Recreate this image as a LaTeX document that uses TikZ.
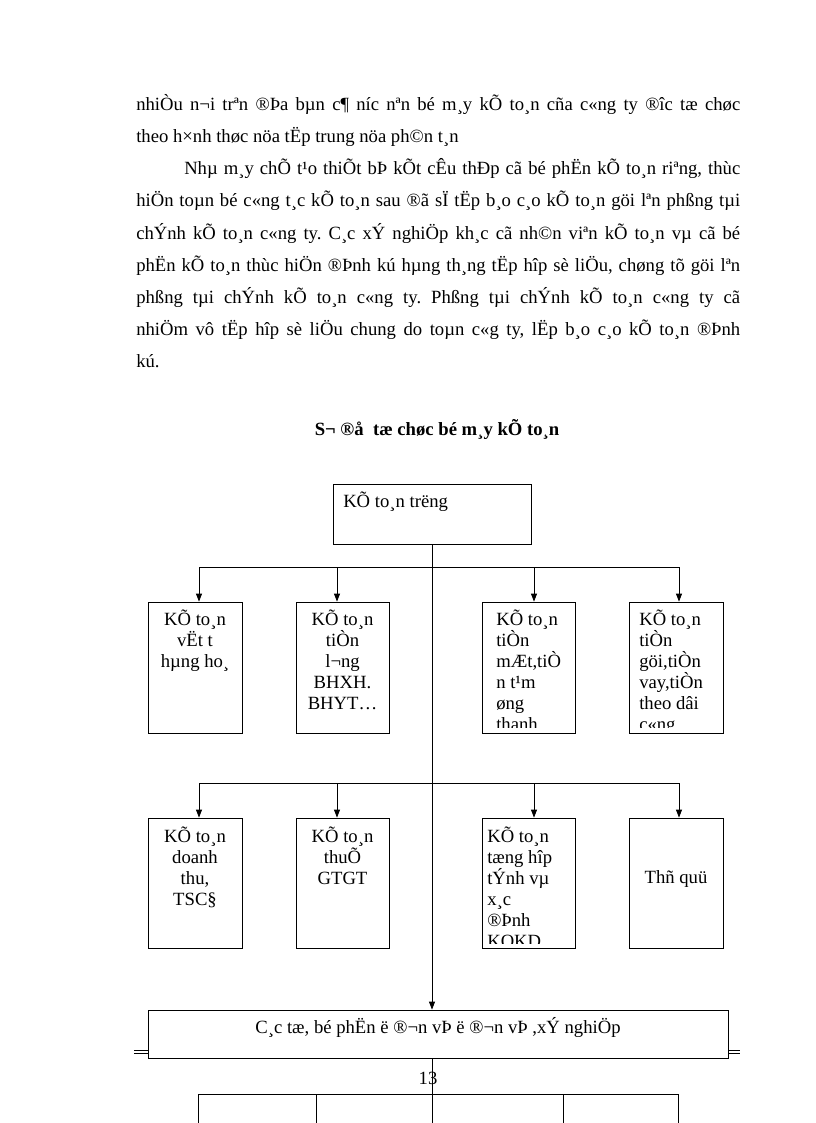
\documentclass[tikz,border=0pt]{standalone}
\usepackage{fontspec}
\setmainfont{Liberation Serif}
\usetikzlibrary{arrows.meta}
\newlength\px
\setlength\px{0.75pt}
\frenchspacing
\begin{document}
\begin{tikzpicture}[x=0.75pt,y=-0.75pt,
  box/.style={draw, line width=0.6pt, rectangle, inner sep=0pt, fill=white},
  ln/.style={line width=0.6pt},
  arr/.style={line width=0.6pt, -{Triangle[length=6pt,width=4.5pt]}},
  txt/.style={inner sep=0pt, font=\fontsize{14pt}{16pt}\selectfont\frenchspacing},
  ttl/.style={inner sep=0pt, font=\fontsize{14pt}{16pt}\selectfont\bfseries},
]
\useasboundingbox (0,0) rectangle (816,1123);
\fill[white] (0,0) rectangle (816,1123);

% paragraph text
\node[txt, anchor=base west] (l1) at (136,111) {\makebox[453pt][s]{nhiÒu n¬i trªn ®Þa bµn c¶ níc nªn bé m¸y kÕ to¸n cña c«ng ty ®îc tæ chøc}};
\node[txt, anchor=base west] (l2) at (136,143) {theo h×nh thøc nöa tËp trung nöa ph©n t¸n};
\node[txt, anchor=base west] (l3) at (184,175) {\makebox[417pt][s]{Nhµ m¸y chÕ t¹o thiÕt bÞ kÕt cÊu thÐp cã bé phËn kÕ to¸n riªng, thùc}};
\node[txt, anchor=base west] (l4) at (136,207) {\makebox[453pt][s]{hiÖn toµn bé c«ng t¸c kÕ to¸n sau ®ã sÏ tËp b¸o c¸o kÕ to¸n göi lªn phßng tµi}};
\node[txt, anchor=base west] (l5) at (136,239) {\makebox[453pt][s]{chÝnh kÕ to¸n c«ng ty. C¸c xÝ nghiÖp kh¸c cã nh©n viªn kÕ to¸n vµ cã bé}};
\node[txt, anchor=base west] (l6) at (136,271) {\makebox[453pt][s]{phËn kÕ to¸n thùc hiÖn ®Þnh kú hµng th¸ng tËp hîp sè liÖu, chøng tõ göi lªn}};
\node[txt, anchor=base west] (l7) at (136,303) {\makebox[453pt][s]{phßng tµi chÝnh kÕ to¸n c«ng ty. Phßng tµi chÝnh kÕ to¸n c«ng ty cã}};
\node[txt, anchor=base west] (l8) at (136,335) {\makebox[453pt][s]{nhiÖm vô tËp hîp sè liÖu chung do toµn c«g ty, lËp b¸o c¸o kÕ to¸n ®Þnh}};
\node[txt, anchor=base west] (l9) at (136,367) {kú.};

% title
\node[ttl, anchor=base] (title) at (437,435) {S¬ ®å\ \ tæ chøc bé m¸y kÕ to¸n};

% footer double rule (hidden behind the bottom box)
\coordinate (fl1) at (134,1050.5);
\coordinate (fr1) at (740,1050.5);
\coordinate (fl2) at (134,1053);
\coordinate (fr2) at (740,1053);
\draw[line width=0.5pt] (fl1) -- (fr1);
\draw[line width=0.5pt] (fl2) -- (fr2);

% boxes
\node[box, minimum width=198\px, minimum height=60\px] (top) at (432,514) {};
\node[box, minimum width=94\px, minimum height=131\px] (b1) at (195,667.5) {};
\node[box, minimum width=93\px, minimum height=131\px] (b2) at (342.5,667.5) {};
\node[box, minimum width=93\px, minimum height=131\px] (b3) at (528.5,667.5) {};
\node[box, minimum width=94\px, minimum height=131\px] (b4) at (676,667.5) {};
\node[box, minimum width=94\px, minimum height=130\px] (b5) at (195,883) {};
\node[box, minimum width=93\px, minimum height=130\px] (b6) at (342.5,883) {};
\node[box, minimum width=93\px, minimum height=130\px] (b7) at (529,883) {};
\node[box, minimum width=94\px, minimum height=130\px] (b8) at (676,883) {};
\node[box, minimum width=580\px, minimum height=48\px] (bot) at (438,1034) {};

% box texts
\node[txt, anchor=base west] (toptxt) at (343,507) {KÕ to¸n trëng};
\foreach \t [count=\i] in {KÕ to¸n, vËt t, hµng ho¸}
  \node[txt, anchor=base] (b1t\i) at (195,{625+21*(\i-1)}) {\t};
\foreach \t [count=\i] in {KÕ to¸n, tiÒn, l¬ng, BHXH., BHYT…}
  \node[txt, anchor=base] (b2t\i) at (342.5,{625+21*(\i-1)}) {\t};
\begin{scope}
  \clip (b3.north west) rectangle ([yshift=6\px]b3.south east);
  \foreach \t [count=\i] in {KÕ to¸n, tiÒn, {mÆt,tiÒ}, n t¹m, øng, thanh}
    \node[txt, anchor=base west] (b3t\i) at (496,{625+21*(\i-1)}) {\t};
\end{scope}
\begin{scope}
  \clip (b4.north west) rectangle ([yshift=6\px]b4.south east);
  \foreach \t [count=\i] in {KÕ to¸n, tiÒn, {göi,tiÒn}, {vay,tiÒn}, theo dâi, c«ng}
    \node[txt, anchor=base west] (b4t\i) at (639,{625+21*(\i-1)}) {\t};
\end{scope}
\foreach \t [count=\i] in {KÕ to¸n, doanh, {thu,}, TSC§}
  \node[txt, anchor=base] (b5t\i) at (195,{842+21*(\i-1)}) {\t};
\foreach \t [count=\i] in {KÕ to¸n, thuÕ, GTGT}
  \node[txt, anchor=base] (b6t\i) at (342.5,{842+21*(\i-1)}) {\t};
\begin{scope}
  \clip (b7.north west) rectangle ([yshift=5\px]b7.south east);
  \foreach \t [count=\i] in {KÕ to¸n, tæng hîp, tÝnh vµ, x¸c, ®Þnh, KQKD}
    \node[txt, anchor=base west] (b7t\i) at (487,{842+21*(\i-1)}) {\t};
\end{scope}
\node[txt, anchor=base] (b8t) at (676,883) {Thñ quü};
\node[txt, anchor=base] (bottxt) at (438,1033) {C¸c tæ, bé phËn ë ®¬n vÞ ë ®¬n vÞ ,xÝ nghiÖp};

% connectors
\coordinate (r1a) at (199,567);
\coordinate (r1b) at (337,567);
\coordinate (r1c) at (534,567);
\coordinate (r1d) at (679,567);
\coordinate (r2a) at (199,783);
\coordinate (r2b) at (337,783);
\coordinate (r2c) at (534,783);
\coordinate (r2d) at (679,783);
\draw[arr] (top.south) -- (top.south |- bot.north);
\draw[ln] (r1a) -- (r1d);
\draw[ln] (r2a) -- (r2d);
\draw[arr] (r1a) -- (r1a |- b1.north);
\draw[arr] (r1b) -- (r1b |- b2.north);
\draw[arr] (r1c) -- (r1c |- b3.north);
\draw[arr] (r1d) -- (r1d |- b4.north);
\draw[arr] (r2a) -- (r2a |- b5.north);
\draw[arr] (r2b) -- (r2b |- b6.north);
\draw[arr] (r2c) -- (r2c |- b7.north);
\draw[arr] (r2d) -- (r2d |- b8.north);

% page number
\node[txt, anchor=base] (pg) at (428,1084) {13};

% lines continuing below the bottom box
\coordinate (c0) at (top.south |- bot.south);
\coordinate (ce) at (432,1123);
\coordinate (q1) at (198,1094);
\coordinate (q2) at (316,1094);
\coordinate (q4) at (563,1094);
\coordinate (q5) at (678,1094);
\coordinate (q1e) at (198,1123);
\coordinate (q2e) at (316,1123);
\coordinate (q4e) at (563,1123);
\coordinate (q5e) at (678,1123);
\draw[ln] (c0) -- (ce);
\draw[ln] (q1) -- (q5);
\draw[ln] (q1) -- (q1e);
\draw[ln] (q2) -- (q2e);
\draw[ln] (q4) -- (q4e);
\draw[ln] (q5) -- (q5e);
\end{tikzpicture}
\end{document}
